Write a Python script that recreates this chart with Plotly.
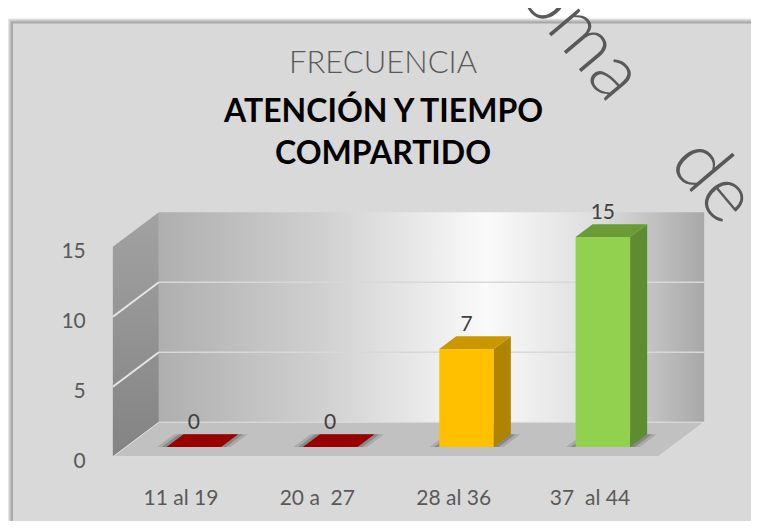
import plotly.graph_objects as go

# ---------------- data ----------------
categories = ["11 al 19", "20 a  27", "28 al 36", "37  al 44"]
values = [0, 0, 7, 15]
front_colors = ["#C00000", "#C00000", "#FFC000", "#92D050"]
top_colors = ["#990000", "#990000", "#C99700", "#6B9B37"]
side_colors = ["#760000", "#760000", "#AE8400", "#5E8C31"]
y_ticks = [0, 5, 10, 15]
y_tick_text = ["0", "5", "10", "15"]
title_top = "FRECUENCIA"
title_lines = ["ATENCIÓN Y TIEMPO", "COMPARTIDO"]
watermark_words = ["oma", "de"]

# ---------------- geometry (layout only) ----------------
# Positions below are measured in page pixels; the page body adds an 8px margin.
OFF = 8
FIG_W, FIG_H = 759 - 2 * OFF, 529 - 2 * OFF
PL, PR, PT, PB = 96, 720, 195, 486          # plot area (page pixels)
X0_PX, SX = 181.0, 136.33                   # page pixel of first category, px per category
Y0_PX, SY = 468.0, 14.6                     # page pixel of value 0 (front plane), px per unit
DX = 46.0 / SX                              # full depth offset in data units
DY = 36.0 / SY
D0, D1 = 0.28, 0.65                         # bar depth start / end (fraction of depth)
BAR_W = 0.40
XL, XR = -0.5, len(categories) - 0.5
WT = y_ticks[-1]

x_range = [(PL - X0_PX) / SX, (PR - X0_PX) / SX]
y_range = [-(PB - Y0_PX) / SY, (Y0_PX - PT) / SY]


def paper_x(px):
    return (px - PL) / (PR - PL)


def paper_y(py):
    return (PB - py) / (PB - PT)


FONT = "Lato, 'Open Sans', sans-serif"
fig = go.Figure()

# ---- back wall ----
fig.add_trace(go.Scatter(
    x=[XL + DX, XR + DX, XR + DX, XL + DX, XL + DX],
    y=[DY, DY, WT + DY, WT + DY, DY],
    mode="lines", line=dict(width=0), fill="toself",
    fillgradient=dict(type="horizontal", colorscale=[
        [0.0, "#afafaf"], [0.3, "#d0d0d0"], [0.6, "#fafafa"],
        [0.8, "#dedede"], [1.0, "#a8a8a8"]]),
    hoverinfo="skip", xaxis="x", yaxis="y"))

# ---- left wall ----
fig.add_trace(go.Scatter(
    x=[XL, XL + DX, XL + DX, XL, XL],
    y=[0, DY, WT + DY, WT, 0],
    mode="lines", line=dict(width=0), fill="toself",
    fillgradient=dict(type="vertical", colorscale=[[0.0, "#838383"], [1.0, "#a2a2a2"]]),
    hoverinfo="skip", xaxis="x", yaxis="y"))

# ---- floor ----
fig.add_trace(go.Scatter(
    x=[XL, XR, XR + DX, XL + DX, XL],
    y=[0, 0, DY, DY, 0],
    mode="lines", line=dict(width=1, color="#e0e0e0"), fill="toself",
    fillcolor="#c1c1c1", hoverinfo="skip", xaxis="x", yaxis="y"))

# ---- gridlines ----
gx_back, gy_back, gx_left, gy_left = [], [], [], []
for t in y_ticks[1:-1]:
    gx_back += [XL + DX, XR + DX, None]
    gy_back += [t + DY, t + DY, None]
    gx_left += [XL, XL + DX, None]
    gy_left += [t, t + DY, None]
fig.add_trace(go.Scatter(x=gx_back, y=gy_back, mode="lines",
                         line=dict(color="#d8d8d8", width=1.5), hoverinfo="skip"))
fig.add_trace(go.Scatter(x=gx_left, y=gy_left, mode="lines",
                         line=dict(color="#e6e6e6", width=2), hoverinfo="skip"))

# ---- soft shadows under bars ----
for i, v in enumerate(values):
    for grow, alpha in [(0.07, 0.18), (0.035, 0.30)]:
        xl = i - BAR_W / 2 - grow
        xr = i + BAR_W / 2 + grow
        fig.add_trace(go.Scatter(
            x=[xl + D0 * DX, xr + D0 * DX, xr + D1 * DX, xl + D1 * DX, xl + D0 * DX],
            y=[D0 * DY, D0 * DY, D1 * DY, D1 * DY, D0 * DY],
            mode="lines", line=dict(width=0), fill="toself",
            fillcolor="rgba(60,60,60,%.2f)" % alpha, hoverinfo="skip"))

# ---- bars (front faces) on overlay axes ----
fig.add_trace(go.Bar(
    x=[i + D0 * DX for i in range(len(categories))],
    y=values, base=D0 * DY, width=BAR_W,
    marker=dict(color=front_colors, line=dict(width=0)),
    hovertext=categories, xaxis="x2", yaxis="y2"))

# ---- side and top faces ----
for i, v in enumerate(values):
    xl = i - BAR_W / 2
    xr = i + BAR_W / 2
    fig.add_trace(go.Scatter(
        x=[xr + D0 * DX, xr + D1 * DX, xr + D1 * DX, xr + D0 * DX, xr + D0 * DX],
        y=[D0 * DY, D1 * DY, v + D1 * DY, v + D0 * DY, D0 * DY],
        mode="lines", line=dict(width=0), fill="toself", fillcolor=side_colors[i],
        hoverinfo="skip", xaxis="x2", yaxis="y2"))
    fig.add_trace(go.Scatter(
        x=[xl + D0 * DX, xr + D0 * DX, xr + D1 * DX, xl + D1 * DX, xl + D0 * DX],
        y=[v + D0 * DY, v + D0 * DY, v + D1 * DY, v + D1 * DY, v + D0 * DY],
        mode="lines", line=dict(width=0), fill="toself", fillcolor=top_colors[i],
        hoverinfo="skip", xaxis="x2", yaxis="y2"))

# ---- data labels ----
fig.add_trace(go.Scatter(
    x=[i + D0 * DX for i in range(len(categories))],
    y=[v + D1 * DY for v in values],
    mode="text", text=[str(v) for v in values], textposition="top center",
    textfont=dict(family=FONT, size=21, color="#404040"),
    hoverinfo="skip", xaxis="x2", yaxis="y2"))

# ---- frame background with shadow ----
shapes = []
for px, py, col in [(8, 11, "#e6e6e6"), (9, 12, "#d2d2d2"), (10, 13, "#bdbdbd"),
                    (11, 14, "#adadad"), (12, 15, "#a6a6a6"), (13, 16, "#d9d9d9")]:
    shapes.append(dict(type="rect", xref="paper", yref="paper", layer="below",
                       x0=paper_x(px), x1=paper_x(800),
                       y0=paper_y(600), y1=paper_y(py),
                       line=dict(width=0), fillcolor=col))

annotations = []
for k, line in enumerate(title_lines):
    annotations.append(dict(
        text="<b>%s</b>" % line, x=paper_x(383), y=paper_y(106 + 44 * k),
        xref="paper", yref="paper", xanchor="center", yanchor="middle",
        showarrow=False, font=dict(family=FONT, size=32, color="#000000")))
for word, (cx, cy) in zip(watermark_words, [(586, 24), (718, 176)]):
    annotations.append(dict(
        text=word, x=paper_x(cx), y=paper_y(cy), xref="paper", yref="paper",
        xanchor="center", yanchor="middle", textangle=50, showarrow=False,
        font=dict(family=FONT, size=78, color="#595959", weight=300)))

axis_font = dict(family=FONT, size=21, color="#595959")
fig.update_layout(
    width=FIG_W, height=FIG_H, autosize=False,
    margin=dict(l=PL - OFF, r=FIG_W - (PR - OFF), t=PT - OFF, b=FIG_H - (PB - OFF), pad=0),
    paper_bgcolor="#ffffff", plot_bgcolor="rgba(0,0,0,0)",
    showlegend=False,
    title=dict(text=title_top, x=(383 - OFF) / FIG_W, xref="container", xanchor="center",
               y=1 - (62 - OFF) / FIG_H, yref="container", yanchor="middle",
               font=dict(family=FONT, size=31, color="#595959", weight=300)),
    xaxis=dict(range=x_range, tickvals=list(range(len(categories))), ticktext=categories,
               showgrid=False, zeroline=False, showline=False, ticks="outside",
               ticklen=5, tickcolor="rgba(0,0,0,0)", tickfont=axis_font, fixedrange=True),
    yaxis=dict(range=y_range, tickvals=y_ticks, ticktext=y_tick_text,
               showgrid=False, zeroline=False, showline=False, ticks="outside",
               ticklen=5, tickcolor="rgba(0,0,0,0)", tickfont=axis_font,
               ticklabelshift=4, fixedrange=True),
    xaxis2=dict(range=x_range, overlaying="x", visible=False, fixedrange=True),
    yaxis2=dict(range=y_range, overlaying="y", visible=False, fixedrange=True),
    shapes=shapes, annotations=annotations,
)

fig.write_html("out.html")
